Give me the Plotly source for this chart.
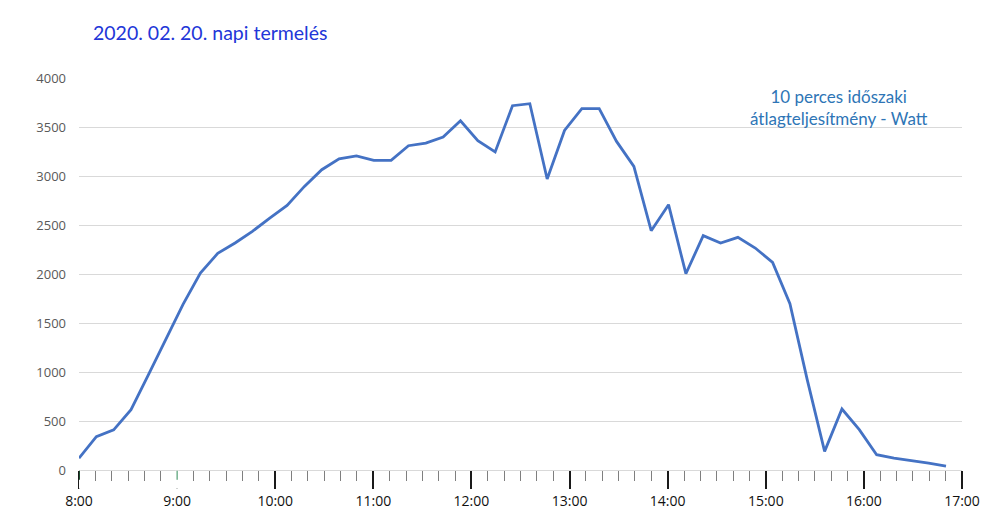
import pandas as pd
import plotly.graph_objects as go

# 10-minute sample times (category labels of the series)
times = list(pd.date_range("2020-02-20 08:00", periods=51, freq="10min"))

# average power per 10-minute period, Watt
power = [120, 340, 410, 615, 970, 1330, 1690, 2010, 2210, 2316,
         2435, 2571, 2700, 2894, 3064, 3175, 3205, 3160, 3160, 3309,
         3335, 3398, 3564, 3360, 3245, 3717, 3738, 2969, 3465, 3687,
         3687, 3353, 3098, 2442, 2707, 2003, 2391, 2316, 2374, 2265,
         2119, 1697, 920, 190, 622, 411, 156, 122, 98, 71, 40]

title_text = "2020. 02. 20. napi termelés"
note_text = "10 perces időszaki<br>átlagteljesítmény - Watt"
y_ticks = [0, 500, 1000, 1500, 2000, 2500, 3000, 3500, 4000]

fig = go.Figure()
fig.add_trace(go.Scatter(x=times, y=power, mode="lines",
                         line=dict(color="#4472c4", width=2.8),
                         xaxis="x", yaxis="y", hoverinfo="x+y"))
# empty trace to host the visible time axis
fig.add_trace(go.Scatter(x=[], y=[], xaxis="x2", yaxis="y", showlegend=False))

fig.update_layout(
    width=995, height=526,
    margin=dict(l=79, r=33, t=78, b=56),
    paper_bgcolor="white", plot_bgcolor="white",
    showlegend=False,
    xaxis=dict(type="date", visible=False,
               range=["2020-02-20 08:00:00", "2020-02-20 16:29:14"]),
    xaxis2=dict(type="date", overlaying="x", side="bottom", anchor="y",
                range=["2020-02-20 08:00", "2020-02-20 17:00"],
                dtick=3600000, tickformat="%-H:%M",
                ticks="outside", ticklen=18, tickwidth=2, tickcolor="#1a1a1a",
                showgrid=False, showline=False, zeroline=False,
                tickfont=dict(family="Open Sans", size=14, color="#111111"),
                minor=dict(dtick=600000, ticks="outside", ticklen=10,
                           tickwidth=1, tickcolor="#7f7f7f", showgrid=False)),
    yaxis=dict(range=[0, 4000], tickvals=y_ticks, showgrid=True,
               gridcolor="#d9d9d9", gridwidth=1, zeroline=True,
               zerolinecolor="#d9d9d9", zerolinewidth=1, showline=False,
               ticks="", ticklabelstandoff=12,
               tickfont=dict(family="Open Sans", size=13, color="#595959")),
    annotations=[
        dict(text=title_text, xref="paper", yref="paper",
             x=(91 - 79) / 883, y=(470 - 32) / 392, xanchor="left", yanchor="middle",
             showarrow=False, font=dict(family="Lato", size=19.5, color="#2236d8")),
        dict(text=note_text, xref="paper", yref="paper",
             x=(839 - 79) / 883, y=(470 - 107) / 392, xanchor="center", yanchor="middle",
             showarrow=False, font=dict(family="Lato", size=17, color="#2e75b6")),
    ],
    shapes=[
        dict(type="line", xref="x2", yref="paper", x0="2020-02-20 09:00", x1="2020-02-20 09:00",
             y0=-0.002, y1=-0.048, line=dict(color="white", width=4), layer="above"),
        dict(type="line", xref="x2", yref="paper", x0="2020-02-20 09:00", x1="2020-02-20 09:00",
             y0=-0.002, y1=-0.048, line=dict(color="#2e8b57", width=1, dash="dash"), layer="above"),
        dict(type="line", xref="x2", yref="paper", x0="2020-02-20 08:00", x1="2020-02-20 08:00",
             y0=-0.002, y1=-0.048, line=dict(color="white", width=4), layer="above"),
        dict(type="line", xref="x2", yref="paper", x0="2020-02-20 08:00", x1="2020-02-20 08:00",
             y0=-0.002, y1=-0.048, line=dict(color="#1b4d2e", width=2, dash="dash"), layer="above"),
    ],
)

fig.write_html("out.html")
